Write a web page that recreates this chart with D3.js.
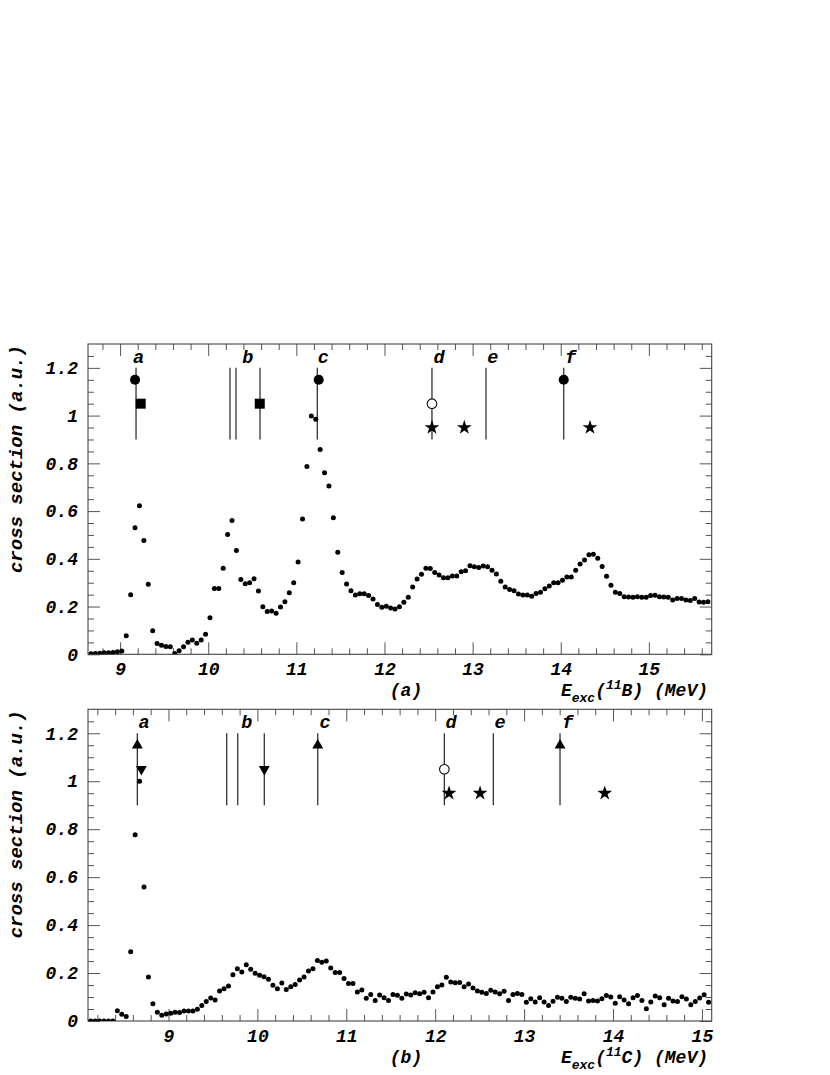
<!DOCTYPE html>
<html><head><meta charset="utf-8">
<script src="https://cdn.jsdelivr.net/npm/d3@7"></script>
<style>body{margin:0;background:#fff} svg{display:block}</style>
</head><body>
<svg id="chart" width="830" height="1075"></svg>
<script>
// ---------- data: panel (a) 11B ----------
const energiesA = [
8.67,8.72,8.77,8.82,8.87,8.92,8.97,9.02,9.07,9.12,
9.17,9.22,9.27,9.32,9.37,9.42,9.47,9.52,9.57,9.62,
9.67,9.72,9.77,9.82,9.87,9.92,9.97,10.02,10.07,10.12,
10.17,10.22,10.27,10.32,10.37,10.42,10.47,10.52,10.57,10.62,
10.67,10.72,10.77,10.82,10.87,10.92,10.97,11.02,11.07,11.12,
11.17,11.22,11.27,11.32,11.37,11.42,11.47,11.52,11.57,11.62,
11.67,11.72,11.77,11.82,11.87,11.92,11.97,12.02,12.07,12.12,
12.17,12.22,12.27,12.32,12.37,12.42,12.47,12.52,12.57,12.62,
12.67,12.72,12.77,12.82,12.87,12.92,12.97,13.02,13.07,13.12,
13.17,13.22,13.27,13.32,13.37,13.42,13.47,13.52,13.57,13.62,
13.67,13.72,13.77,13.82,13.87,13.92,13.97,14.02,14.07,14.12,
14.17,14.22,14.27,14.32,14.37,14.42,14.47,14.52,14.57,14.62,
14.67,14.72,14.77,14.82,14.87,14.92,14.97,15.02,15.07,15.12,
15.17,15.22,15.27,15.32,15.37,15.42,15.47,15.52,15.57,15.62,
15.67];
const valuesA = [
0.002,0.003,0.004,0.006,0.007,0.008,0.011,0.014,0.078,0.250,
0.530,0.622,0.477,0.293,0.099,0.045,0.038,0.033,0.032,0.003,
0.015,0.032,0.050,0.060,0.046,0.060,0.084,0.153,0.276,0.276,
0.361,0.502,0.561,0.435,0.313,0.296,0.300,0.317,0.265,0.199,
0.179,0.181,0.172,0.198,0.220,0.258,0.300,0.387,0.567,0.787,
0.998,0.985,0.858,0.761,0.705,0.572,0.428,0.343,0.294,0.266,
0.248,0.254,0.254,0.246,0.232,0.209,0.197,0.201,0.194,0.190,
0.199,0.218,0.239,0.282,0.315,0.335,0.361,0.359,0.343,0.332,
0.321,0.321,0.328,0.328,0.346,0.350,0.371,0.367,0.364,0.370,
0.367,0.352,0.336,0.306,0.282,0.272,0.266,0.253,0.248,0.248,
0.243,0.255,0.260,0.275,0.286,0.300,0.300,0.310,0.324,0.324,
0.352,0.378,0.395,0.417,0.419,0.402,0.368,0.327,0.289,0.260,
0.255,0.241,0.240,0.239,0.241,0.239,0.239,0.246,0.247,0.241,
0.240,0.239,0.227,0.234,0.234,0.227,0.225,0.234,0.219,0.218,
0.220];

// ---------- data: panel (b) 11C ----------
const energiesB = [
8.125,8.175,8.225,8.275,8.325,8.375,8.425,8.475,8.525,8.575,
8.625,8.675,8.725,8.775,8.825,8.875,8.925,8.975,9.025,9.075,
9.125,9.175,9.225,9.275,9.325,9.375,9.425,9.475,9.525,9.575,
9.625,9.675,9.725,9.775,9.825,9.875,9.925,9.975,10.025,10.075,
10.125,10.175,10.225,10.275,10.325,10.375,10.425,10.475,10.525,10.575,
10.625,10.675,10.725,10.775,10.825,10.875,10.925,10.975,11.025,11.075,
11.125,11.175,11.225,11.275,11.325,11.375,11.425,11.475,11.525,11.575,
11.625,11.675,11.725,11.775,11.825,11.875,11.925,11.975,12.025,12.075,
12.125,12.175,12.225,12.275,12.325,12.375,12.425,12.475,12.525,12.575,
12.625,12.675,12.725,12.775,12.825,12.875,12.925,12.975,13.025,13.075,
13.125,13.175,13.225,13.275,13.325,13.375,13.425,13.475,13.525,13.575,
13.625,13.675,13.725,13.775,13.825,13.875,13.925,13.975,14.025,14.075,
14.125,14.175,14.225,14.275,14.325,14.375,14.425,14.475,14.525,14.575,
14.625,14.675,14.725,14.775,14.825,14.875,14.925,14.975,15.025,15.075];
const valuesB = [
0,0,0,0,0,0,0.043,0.028,0.019,0.289,
0.777,1.000,0.559,0.184,0.072,0.036,0.024,0.029,0.032,0.036,
0.035,0.042,0.042,0.042,0.049,0.065,0.081,0.096,0.088,0.125,
0.134,0.146,0.193,0.218,0.204,0.235,0.216,0.199,0.191,0.185,
0.174,0.149,0.135,0.159,0.131,0.143,0.152,0.171,0.184,0.209,
0.218,0.252,0.245,0.250,0.221,0.202,0.202,0.177,0.156,0.156,
0.121,0.129,0.095,0.111,0.085,0.108,0.097,0.085,0.111,0.107,
0.095,0.113,0.108,0.118,0.114,0.120,0.097,0.121,0.143,0.150,
0.182,0.163,0.160,0.161,0.143,0.154,0.138,0.125,0.120,0.115,
0.128,0.121,0.114,0.124,0.085,0.111,0.115,0.111,0.078,0.093,
0.079,0.097,0.079,0.065,0.082,0.099,0.095,0.081,0.099,0.095,
0.092,0.114,0.083,0.086,0.083,0.093,0.106,0.100,0.074,0.101,
0.088,0.072,0.097,0.106,0.086,0.051,0.079,0.104,0.097,0.068,
0.095,0.083,0.081,0.101,0.092,0.068,0.081,0.096,0.110,0.078];

// ---------- axes ----------
const yDomain = [0, 1.3];
const yTickValues = [0, 0.2, 0.4, 0.6, 0.8, 1, 1.2];
const xTickValues = [9, 10, 11, 12, 13, 14, 15];
const xDomainA = [8.636, 15.713];
const xDomainB = [8.095, 15.11];

// ---------- level annotations ----------
const letters = ["a", "b", "c", "d", "e", "f"];
const letterPosA = [9.209, 10.448, 11.306, 12.619, 13.228, 14.113];
const letterPosB = [8.725, 9.88, 10.761, 12.178, 12.729, 13.491];
const letterLevel = 1.22;
const lineRange = [0.9, 1.2];
const levelLinesA = [9.181, 10.247, 10.315, 10.588, 11.238, 12.539, 13.152, 14.034];
const levelLinesB = [8.65, 9.655, 9.779, 10.078, 10.679, 12.103, 12.654, 13.404];
const filledCirclesA = [[9.17, 1.15], [11.254, 1.15], [14.034, 1.15]];
const squaresA = [[9.234, 1.05], [10.585, 1.05]];
const openCirclesA = [[12.539, 1.05]];
const starsA = [[12.539, 0.95], [12.906, 0.95], [14.332, 0.95]];
const upTrianglesB = [[8.65, 1.15], [10.679, 1.15], [13.404, 1.15]];
const downTrianglesB = [[8.695, 1.05], [10.078, 1.05]];
const openCirclesB = [[12.103, 1.05]];
const starsB = [[12.156, 0.95], [12.505, 0.95], [13.907, 0.95]];

const svg = d3.select("#chart");
const FONT = "'Liberation Mono','Courier New',monospace";
const tickColor = "#555";

function styleText(sel, size) {
  return sel.attr("font-family", FONT).attr("font-weight", "bold")
    .attr("font-style", "italic").attr("font-size", size).attr("fill", "#000");
}

function drawPanel(cfg) {
  const x = d3.scaleLinear().domain(cfg.xDomain).range([cfg.left, cfg.right]);
  const y = d3.scaleLinear().domain(yDomain).range([cfg.bottom, cfg.top]);
  const g = svg.append("g");
  const clipId = "clip-" + cfg.id;
  svg.append("clipPath").attr("id", clipId).append("rect")
    .attr("x", cfg.left).attr("y", cfg.top)
    .attr("width", cfg.right - cfg.left).attr("height", cfg.bottom - cfg.top);

  const xMinor = d3.range(Math.ceil(cfg.xDomain[0] * 5) / 5, cfg.xDomain[1], 0.2)
    .filter(v => Math.abs(v - Math.round(v)) > 1e-6);
  const yMinor = d3.range(0.05, 1.3, 0.05)
    .filter(v => Math.abs(v * 5 - Math.round(v * 5)) > 1e-6);

  function axisG(gen, tx, ty) {
    const a = g.append("g").attr("transform", `translate(${tx},${ty})`).call(gen);
    a.select(".domain").remove();
    a.selectAll(".tick line").attr("stroke", tickColor).attr("stroke-width", 1);
    styleText(a.selectAll(".tick text"), 18);
    return a;
  }
  axisG(d3.axisBottom(x).tickValues(xTickValues).tickFormat(d3.format("d")).tickSize(-12).tickSizeOuter(0).tickPadding(8), 0, cfg.bottom);
  axisG(d3.axisBottom(x).tickValues(xMinor).tickFormat("").tickSize(-6).tickSizeOuter(0), 0, cfg.bottom);
  axisG(d3.axisTop(x).tickValues(xTickValues).tickFormat("").tickSize(-12).tickSizeOuter(0), 0, cfg.top);
  axisG(d3.axisTop(x).tickValues(xMinor).tickFormat("").tickSize(-6).tickSizeOuter(0), 0, cfg.top);
  axisG(d3.axisLeft(y).tickValues(yTickValues).tickFormat(d3.format("~g")).tickSize(-12).tickSizeOuter(0).tickPadding(10), cfg.left, 0);
  axisG(d3.axisLeft(y).tickValues(yMinor).tickFormat("").tickSize(-6).tickSizeOuter(0), cfg.left, 0);
  axisG(d3.axisRight(y).tickValues(yTickValues).tickFormat("").tickSize(-12).tickSizeOuter(0), cfg.right, 0);
  axisG(d3.axisRight(y).tickValues(yMinor).tickFormat("").tickSize(-6).tickSizeOuter(0), cfg.right, 0);

  g.append("rect").attr("x", cfg.left).attr("y", cfg.top)
    .attr("width", cfg.right - cfg.left).attr("height", cfg.bottom - cfg.top)
    .attr("fill", "none").attr("stroke", "#444").attr("stroke-width", 1.1);

  // level lines
  g.selectAll(null).data(cfg.lines).enter().append("line")
    .attr("x1", d => x(d)).attr("x2", d => x(d))
    .attr("y1", y(lineRange[0])).attr("y2", y(lineRange[1]))
    .attr("stroke", "#333").attr("stroke-width", 1.3);

  // letters
  styleText(g.selectAll(null).data(letters).enter().append("text")
    .attr("x", (d, i) => x(cfg.letterPos[i])).attr("y", y(letterLevel))
    .attr("text-anchor", "middle").text(d => d), 18.5);

  // markers
  const sym = (type, size) => d3.symbol().type(type).size(size)();
  function markers(data, path, fill, stroke, rot) {
    g.selectAll(null).data(data).enter().append("path")
      .attr("d", path)
      .attr("transform", d => `translate(${x(d[0])},${y(d[1])})` + (rot ? " rotate(180)" : ""))
      .attr("fill", fill).attr("stroke", stroke).attr("stroke-width", 1.1);
  }
  if (cfg.filledCircles) markers(cfg.filledCircles, sym(d3.symbolCircle, 80), "#000", "none");
  if (cfg.squares) markers(cfg.squares, sym(d3.symbolSquare, 100), "#000", "none");
  if (cfg.openCircles) markers(cfg.openCircles, sym(d3.symbolCircle, 72), "#fff", "#000");
  if (cfg.stars) markers(cfg.stars, sym(d3.symbolStar, 68), "#000", "none");
  if (cfg.upTriangles) markers(cfg.upTriangles, sym(d3.symbolTriangle, 52), "#000", "none");
  if (cfg.downTriangles) markers(cfg.downTriangles, sym(d3.symbolTriangle, 52), "#000", "none", true);

  // data points
  g.append("g").attr("clip-path", `url(#${clipId})`)
    .selectAll("circle").data(cfg.energies.map((e, i) => [e, cfg.values[i]]))
    .enter().append("circle")
    .attr("cx", d => x(d[0])).attr("cy", d => y(d[1])).attr("r", 2.5).attr("fill", "#000");

  // panel tag
  styleText(g.append("text").attr("x", 406).attr("y", cfg.bottom + 42)
    .attr("text-anchor", "middle").text(cfg.tag), 18);

  // x title
  const t = styleText(g.append("text").attr("x", 708).attr("y", cfg.bottom + 42)
    .attr("text-anchor", "end"), 18);
  t.append("tspan").text("E");
  t.append("tspan").attr("dy", 6).attr("font-size", 13).text("exc");
  t.append("tspan").attr("dy", -6).text("(");
  t.append("tspan").attr("dy", -7).attr("font-size", 13).text("11");
  t.append("tspan").attr("dy", 7).text(cfg.nucleus + ") (MeV)");

  // y title
  styleText(g.append("text")
    .attr("transform", `translate(22,${cfg.top + 1}) rotate(-90)`)
    .attr("text-anchor", "end").text("cross section (a.u.)"), 19);
}

drawPanel({id: "a", left: 88, right: 711.7, top: 344, bottom: 654.3,
  xDomain: xDomainA, energies: energiesA, values: valuesA, tag: "(a)", nucleus: "B",
  lines: levelLinesA, letterPos: letterPosA,
  filledCircles: filledCirclesA, squares: squaresA, openCircles: openCirclesA, stars: starsA});

drawPanel({id: "b", left: 88, right: 711.7, top: 709.3, bottom: 1021,
  xDomain: xDomainB, energies: energiesB, values: valuesB, tag: "(b)", nucleus: "C",
  lines: levelLinesB, letterPos: letterPosB,
  upTriangles: upTrianglesB, downTriangles: downTrianglesB, openCircles: openCirclesB, stars: starsB});
</script>
</body></html>
